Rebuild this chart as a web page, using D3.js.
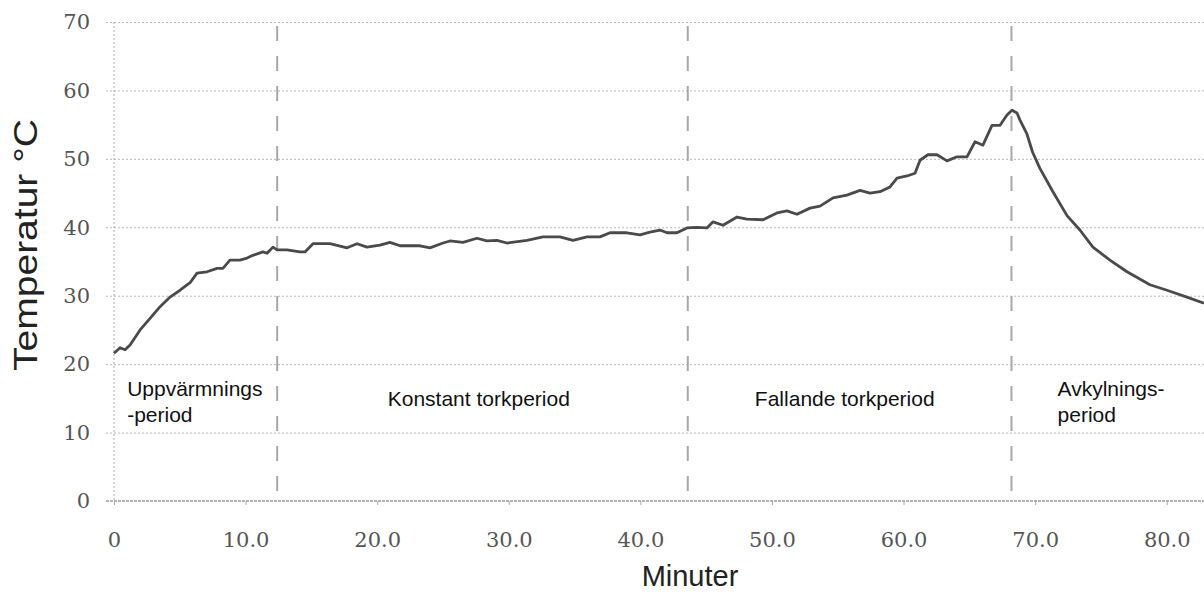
<!DOCTYPE html>
<html lang="sv">

<head>
    <meta charset="UTF-8">
    <title>Temperatur</title>
    <style>
        body {
            margin: 0;
            background: #fff;
        }

        .grid line {
            stroke: #b8b8b8;
            stroke-width: 1px;
            stroke-dasharray: 2, 2;
        }

        .grid path {
            stroke-width: 0;
        }

        .tick-labels text {
            font-family: 'DejaVu Serif', serif;
            font-size: 21px;
            fill: #555;
        }

        .tick-labels path {
            stroke-width: 0;
        }

        .x-ticks line {
            stroke: #aaa;
        }

        .zero-line {
            stroke: #999;
            stroke-width: 1.5px;
            stroke-dasharray: 3, 1;
        }

        .left-line {
            stroke: #aaa;
            stroke-width: 1px;
            stroke-dasharray: 2, 2;
        }

        .period-line {
            stroke: #a8a8a8;
            stroke-width: 2px;
            stroke-dasharray: 15, 15;
        }

        .temp-line {
            fill: none;
            stroke: #4a4a4a;
            stroke-width: 2.8px;
            stroke-linejoin: round;
        }

        .axis-title {
            font-family: 'Liberation Sans', Arial, sans-serif;
            fill: #222;
            text-anchor: middle;
        }

        .period-label {
            font-family: 'Liberation Sans', Arial, sans-serif;
            font-size: 21px;
            fill: #111;
        }
    </style>
</head>

<body>
    <script src="https://d3js.org/d3.v7.min.js"></script>
    <script>
        // time in minutes and temperature in °C
        const minutes = [0.0, 0.46, 0.84, 1.22, 1.98, 2.74, 3.5, 4.26, 5.02, 5.78, 6.31, 7.07, 7.83, 8.28, 8.81,
            9.57, 10.11, 10.56, 11.32, 11.63, 12.08, 12.39, 13.15, 14.13, 14.51, 15.12, 16.41, 17.71, 18.47,
            19.22, 20.21, 20.97, 21.73, 23.25, 24.01, 25.0, 25.53, 26.52, 27.58, 28.34, 29.1, 29.86, 31.38,
            32.6, 33.89, 34.88, 35.94, 36.93, 37.69, 38.98, 39.97, 40.73, 41.49, 42.02, 42.78, 43.54, 44.3,
            45.06, 45.52, 46.28, 47.34, 48.1, 49.32, 50.38, 51.14, 51.9, 52.89, 53.65, 54.64, 55.7, 56.69,
            57.45, 58.21, 58.97, 59.5, 60.26, 60.87, 61.25, 61.85, 62.54, 63.3, 64.06, 64.82, 65.43, 66.03,
            66.72, 67.33, 67.86, 68.24, 68.62, 68.84, 69.38, 69.8, 70.36, 71.35, 72.42, 73.4, 74.39, 75.68,
            76.98, 78.72, 80.02, 81.53, 82.83];
        const temperature = [21.6, 22.4, 22.1, 22.8, 25.0, 26.7, 28.4, 29.8, 30.8, 31.9, 33.3, 33.5, 34.0, 34.0, 35.2,
            35.2, 35.5, 35.9, 36.4, 36.2, 37.1, 36.7, 36.7, 36.4, 36.4, 37.6, 37.6, 37.0, 37.6,
            37.1, 37.4, 37.8, 37.3, 37.3, 37.0, 37.7, 38.0, 37.8, 38.4, 38.0, 38.1, 37.7, 38.1,
            38.6, 38.6, 38.1, 38.6, 38.6, 39.2, 39.2, 38.9, 39.3, 39.6, 39.2, 39.2, 39.9, 40.0,
            39.9, 40.8, 40.3, 41.5, 41.2, 41.1, 42.1, 42.4, 41.9, 42.8, 43.1, 44.3, 44.7, 45.4,
            45.0, 45.2, 45.9, 47.2, 47.5, 47.9, 49.8, 50.6, 50.6, 49.7, 50.3, 50.3, 52.5, 52.0,
            54.9, 54.9, 56.4, 57.1, 56.7, 55.7, 53.6, 51.0, 48.6, 45.2, 41.7, 39.6, 37.1, 35.2,
            33.5, 31.6, 30.8, 29.8, 28.9];

        const periodBounds = [12.4, 43.6, 68.2];
        const periodLabels = [
            { x: 1.0, lines: ['Uppvärmnings', '-period'] },
            { x: 20.8, lines: ['Konstant torkperiod'] },
            { x: 48.7, lines: ['Fallande torkperiod'] },
            { x: 71.7, lines: ['Avkylnings-', 'period'] },
        ];
        const xTicks = [0, 10, 20, 30, 40, 50, 60, 70, 80];
        const xTickLabels = ['0', '10.0', '20.0', '30.0', '40.0', '50.0', '60.0', '70.0', '80.0'];
        const yTicks = [0, 10, 20, 30, 40, 50, 60, 70];

        const width = 1204;
        const height = 593;
        const plotLeft = 114;
        const plotTop = 22;
        const plotBottom = 501;

        const xScale = d3.scaleLinear()
            .domain([0, 82.83])
            .range([plotLeft, width]);
        const yScale = d3.scaleLinear()
            .domain([0, 70])
            .range([plotBottom, plotTop]);

        const svg = d3.select('body')
            .append('svg')
            .attr('width', width)
            .attr('height', height);

        // horizontal dotted grid
        svg.append('g')
            .attr('class', 'grid')
            .attr('transform', `translate(${width}, 0)`)
            .call(d3.axisLeft(yScale)
                .tickValues(yTicks.filter(d => d > 0))
                .tickSize(width - plotLeft + 8)
                .tickFormat(''));

        svg.append('line')
            .attr('class', 'left-line')
            .attr('x1', plotLeft).attr('x2', plotLeft)
            .attr('y1', yScale(70)).attr('y2', yScale(0));

        svg.append('line')
            .attr('class', 'zero-line')
            .attr('x1', plotLeft - 8).attr('x2', width)
            .attr('y1', yScale(0)).attr('y2', yScale(0));

        // tick labels
        svg.append('g')
            .attr('class', 'tick-labels')
            .attr('transform', `translate(${plotLeft}, 0)`)
            .call(d3.axisLeft(yScale)
                .tickValues(yTicks)
                .tickSize(0)
                .tickPadding(24)
                .tickFormat(d3.format('d')));

        svg.append('g')
            .attr('class', 'tick-labels x-ticks')
            .attr('transform', `translate(0, ${plotBottom})`)
            .call(d3.axisBottom(xScale)
                .tickValues(xTicks)
                .tickSize(4)
                .tickPadding(27)
                .tickFormat((d, i) => xTickLabels[i]));

        // period boundaries
        svg.selectAll('.period-line')
            .data(periodBounds)
            .enter().append('line')
            .attr('class', 'period-line')
            .attr('x1', d => xScale(d)).attr('x2', d => xScale(d))
            .attr('y1', yScale(70) + 4).attr('y2', yScale(0) - 6);

        svg.append('path')
            .datum(minutes.map((m, i) => [m, temperature[i]]))
            .attr('class', 'temp-line')
            .attr('d', d3.line()
                .x(d => xScale(d[0]))
                .y(d => yScale(d[1])));

        const labels = svg.selectAll('.period-label')
            .data(periodLabels)
            .enter().append('text')
            .attr('class', 'period-label')
            .attr('transform', d => `translate(${xScale(d.x)}, ${d.lines.length > 1 ? 396 : 406})`);

        labels.selectAll('tspan')
            .data(d => d.lines)
            .enter().append('tspan')
            .attr('x', 0)
            .attr('dy', (d, i) => i === 0 ? 0 : 26)
            .text(d => d);

        svg.append('text')
            .attr('class', 'axis-title')
            .attr('transform', 'translate(37, 245) rotate(-90)')
            .attr('textLength', 252)
            .attr('lengthAdjust', 'spacingAndGlyphs')
            .style('font-size', '34px')
            .text('Temperatur °C');

        svg.append('text')
            .attr('class', 'axis-title')
            .attr('x', 690)
            .attr('y', 586)
            .style('font-size', '29px')
            .text('Minuter');
    </script>
</body>

</html>
